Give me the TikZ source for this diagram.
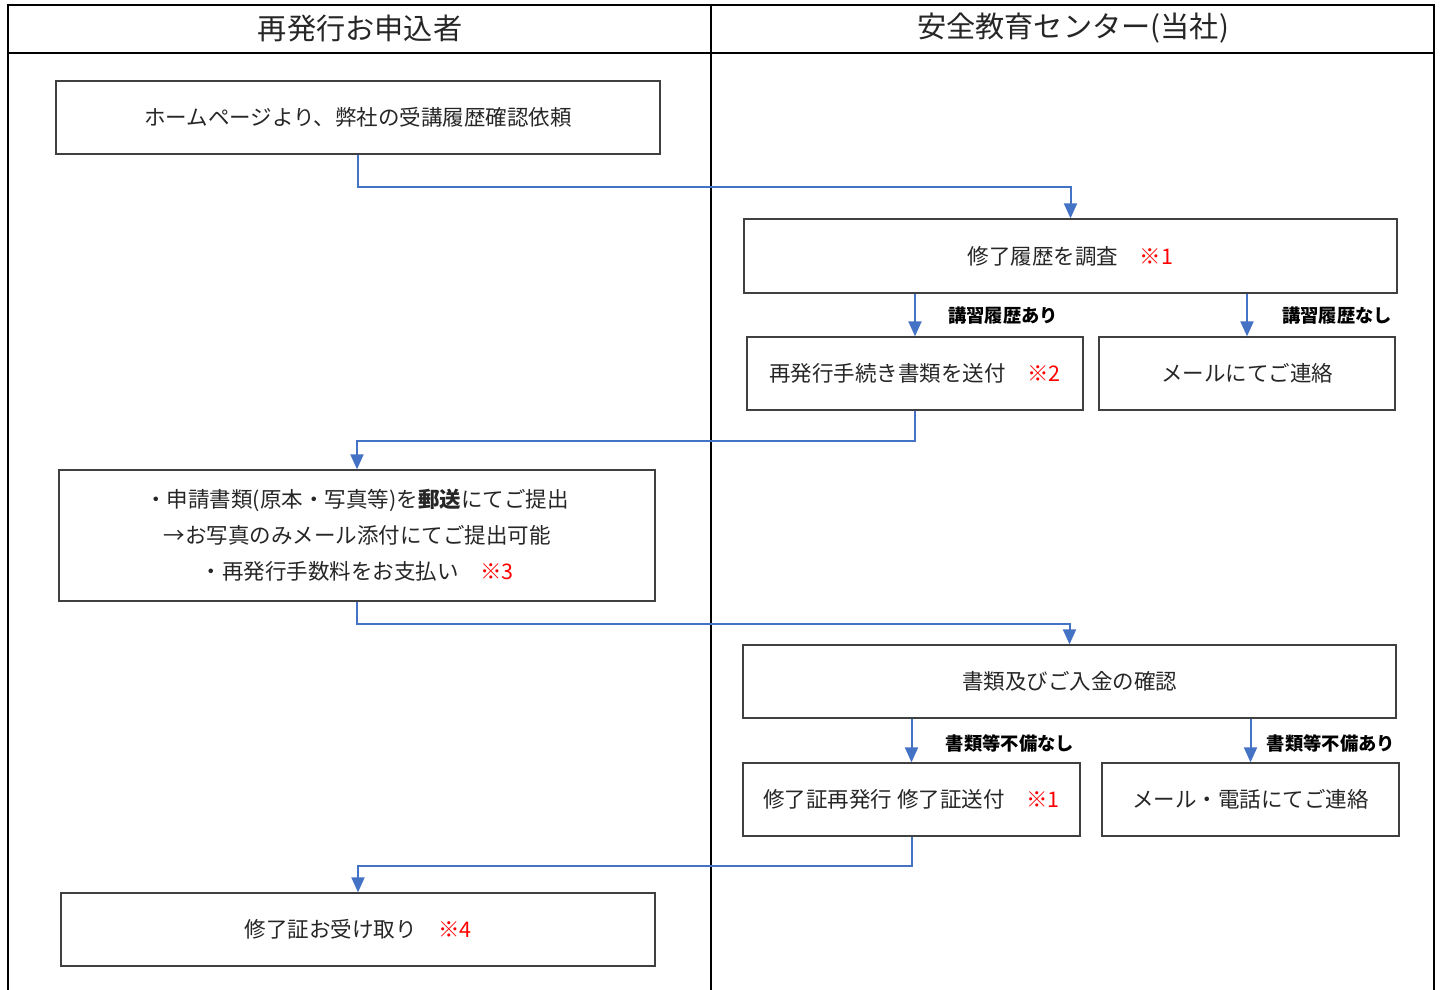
\documentclass[tikz,border=0pt]{standalone}
\usepackage{fontspec}
\setmainfont{Noto Sans CJK JP}
\usetikzlibrary{arrows.meta}
\definecolor{flowblue}{HTML}{4472C4}
\definecolor{boxgray}{HTML}{404040}
\definecolor{txt}{HTML}{262626}
\definecolor{mark}{HTML}{FF0000}
\tikzset{
  frameline/.style={line width=2.8pt, black},
  hdr/.style={font=\fontsize{29.2}{32}\selectfont, text=txt, inner sep=0pt},
  box/.style={draw=boxgray, line width=1.3pt, inner sep=0pt, text=txt,
    font=\fontsize{21.5}{36}\selectfont, align=center},
  lbl/.style={inner sep=0pt, text=black, font=\fontsize{18.3}{20}\selectfont\bfseries},
  arr/.style={draw=flowblue, line width=2pt, -{Triangle[width=13pt,length=15pt]}},
}
\newcommand{\rmark}[1]{{\color{mark}※#1}}
\begin{document}
\begin{tikzpicture}[x=1pt,y=-1pt]
\useasboundingbox (0,0) rectangle (1443,989);
% frame
\draw[frameline] (8,5) rectangle (1434,1010);
\draw[frameline] (8,53) -- (1434,53);
\draw[frameline] (711,5) -- (711,1010);
\node[hdr] (h1) at (360,28) {再発行お申込者};
\node[hdr] (h2) at (1073,28) {安全教育センター(当社)};
% boxes
\node[box, minimum width=604pt, minimum height=73pt] (b1) at (358,117.5) {ホームページより、弊社の受講履歴確認依頼};
\node[box, minimum width=653pt, minimum height=74pt] (b2) at (1070.5,256) {修了履歴を調査\hspace{1em}\rmark{1}};
\node[box, minimum width=336pt, minimum height=73pt] (b3) at (915,373.5) {再発行手続き書類を送付\hspace{1em}\rmark{2}};
\node[box, minimum width=296pt, minimum height=73pt] (b4) at (1247,373.5) {メールにてご連絡};
\node[box, minimum width=596pt, minimum height=131pt] (b5) at (357,535.5) {・申請書類(原本・写真等)を\textbf{郵送}にてご提出\\→お写真のみメール添付にてご提出可能\\・再発行手数料をお支払い\hspace{1em}\rmark{3}};
\node[box, minimum width=653pt, minimum height=73pt] (b6) at (1069.5,681.5) {書類及びご入金の確認};
\node[box, minimum width=337pt, minimum height=73pt] (b7) at (911.5,799.5) {修了証再発行 修了証送付\hspace{1em}\rmark{1}};
\node[box, minimum width=297pt, minimum height=73pt] (b8) at (1250.5,799.5) {メール・電話にてご連絡};
\node[box, minimum width=594pt, minimum height=73pt] (b9) at (358,929.5) {修了証お受け取り\hspace{1em}\rmark{4}};
% labels
\node[lbl] (l1) at (1003,316) {講習履歴あり};
\node[lbl] (l2) at (1337,316) {講習履歴なし};
\node[lbl] (l3) at (1010,743) {書類等不備なし};
\node[lbl] (l4) at (1331,743) {書類等不備あり};
% connectors
\draw[arr] (b1.south) -- ++(0,32) -| (b2.north);
\draw[arr] (b2.south -| b3.north) -- (b3.north);
\draw[arr] (b2.south -| b4.north) -- (b4.north);
\draw[arr] (b3.south) -- ++(0,30) -| (b5.north);
\draw[arr] (b5.south) -- ++(0,22) -| (b6.north);
\draw[arr] (b6.south -| b7.north) -- (b7.north);
\draw[arr] (b6.south -| b8.north) -- (b8.north);
\draw[arr] (b7.south) -- ++(0,29) -| (b9.north);
\end{tikzpicture}
\end{document}
